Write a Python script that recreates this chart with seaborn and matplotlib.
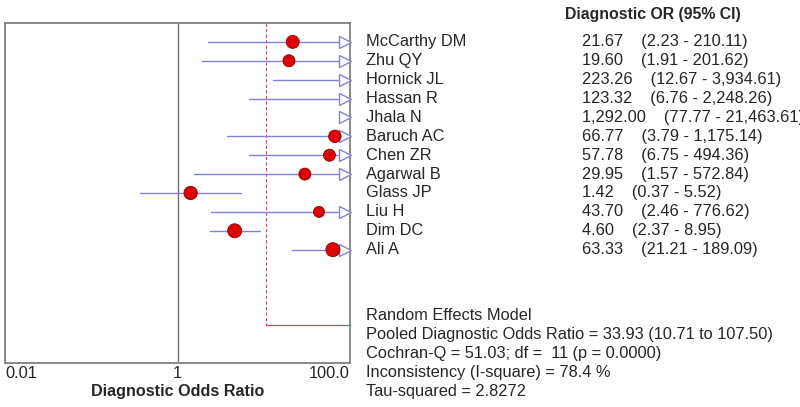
import numpy as np
import pandas as pd
import matplotlib
matplotlib.use("Agg")
import matplotlib.pyplot as plt
import matplotlib.transforms as mtransforms
import seaborn as sns

sns.set_style("white")
plt.rcParams['font.family'] = ['Liberation Sans', 'DejaVu Sans']

# Study data
studies = ["McCarthy DM", "Zhu QY", "Hornick JL", "Hassan R", "Jhala N", "Baruch AC",
           "Chen ZR", "Agarwal B", "Glass JP", "Liu H", "Dim DC", "Ali A"]
dor = [21.67, 19.60, 223.26, 123.32, 1292.00, 66.77, 57.78, 29.95, 1.42, 43.70, 4.60, 63.33]
ci_low = [2.23, 1.91, 12.67, 6.76, 77.77, 3.79, 6.75, 1.57, 0.37, 2.46, 2.37, 21.21]
ci_high = [210.11, 201.62, 3934.61, 2248.26, 21463.61, 1175.14, 494.36, 572.84, 5.52,
           776.62, 8.95, 189.09]
# marker diameter (study weight)
weight = [13, 12, 12, 12, 12, 12.5, 12, 12, 13.3, 11, 14, 14]

pooled_line = 10.71
summary = ["Random Effects Model",
           "Pooled Diagnostic Odds Ratio = 33.93 (10.71 to 107.50)",
           "Cochran-Q = 51.03; df =  11 (p = 0.0000)",
           "Inconsistency (I-square) = 78.4 %",
           "Tau-squared = 2.8272"]
xticks = [0.01, 1, 100]
xticklabels = ["0.01", "1", "100.0"]


def fmt(v):
    return f"{v:,.2f}"


df = pd.DataFrame({"study": studies, "dor": dor, "lo": ci_low, "hi": ci_high, "w": weight})
df["row"] = np.arange(len(df))

fig = plt.figure(figsize=(8, 4.07), dpi=100)
ax = fig.add_axes([0.00625, 0.1081, 0.43125, 0.8354])
xmin, xmax = 0.01, 100
ax.set_xscale("log")
ax.set_xlim(xmin, xmax)
ax.set_ylim(17.0, -1.0)

line_col = "#8282dc"
fs = 11.8
# reference line at 1
ax.axvline(1, color="#707070", lw=1.0, zorder=1)
# pooled line
ax.plot([pooled_line, pooled_line], [-1.0, 15.0], color="#e04060", lw=0.8, ls=(0, (3, 2)), zorder=1)
ax.plot([pooled_line, xmax], [15.0, 15.0], color="#e04060", lw=0.9, zorder=1)

# confidence intervals
for _, r in df.iterrows():
    hi = min(r["hi"], xmax / 1.1)
    ax.plot([r["lo"], hi], [r["row"], r["row"]], color=line_col, lw=1.0, zorder=2)
    if r["hi"] > xmax:
        ax.plot([xmax / 1.14], [r["row"]], marker=">", ms=9, mfc="white", mec=line_col,
                mew=1.0, zorder=3, clip_on=False)

sns.scatterplot(data=df, x="dor", y="row", s=(df["w"] * 0.72) ** 2, color="#e00000",
                edgecolor="#8b0000", linewidth=0.6, ax=ax, zorder=4, legend=False)

ax.set_xticks(xticks)
ax.set_xticklabels(xticklabels, fontsize=fs)
ax.xaxis.set_minor_locator(matplotlib.ticker.NullLocator())
ax.tick_params(axis="x", length=0, pad=2)
ax.set_yticks([])
ax.set_ylabel("")
ax.set_xlabel("Diagnostic Odds Ratio", fontsize=11.6, fontweight="bold", labelpad=2)
for s in ax.spines.values():
    s.set_color("#808080")
    s.set_linewidth(1.3)
ax.get_xticklabels()[0].set_horizontalalignment("left")
ax.get_xticklabels()[-1].set_horizontalalignment("right")

# right-hand text columns
trans = mtransforms.blended_transform_factory(fig.transFigure, ax.transData)
fig.text(0.70625, 1 - 15 / 407, "Diagnostic OR (95% CI)", fontsize=11.4, fontweight="bold",
         va="center", ha="left")
for _, r in df.iterrows():
    ax.text(0.4575, r["row"], r["study"], transform=trans, fontsize=fs, va="center",
            ha="left", clip_on=False)
    ax.text(0.7275, r["row"], f"{fmt(r['dor'])}    ({fmt(r['lo'])} - {fmt(r['hi'])})",
            transform=trans, fontsize=fs, va="center", ha="left", clip_on=False)
for i, line in enumerate(summary):
    ax.text(0.4575, 14.5 + i, line, transform=trans, fontsize=fs, va="center", ha="left",
            clip_on=False)

fig.savefig("out.png", dpi=100)
